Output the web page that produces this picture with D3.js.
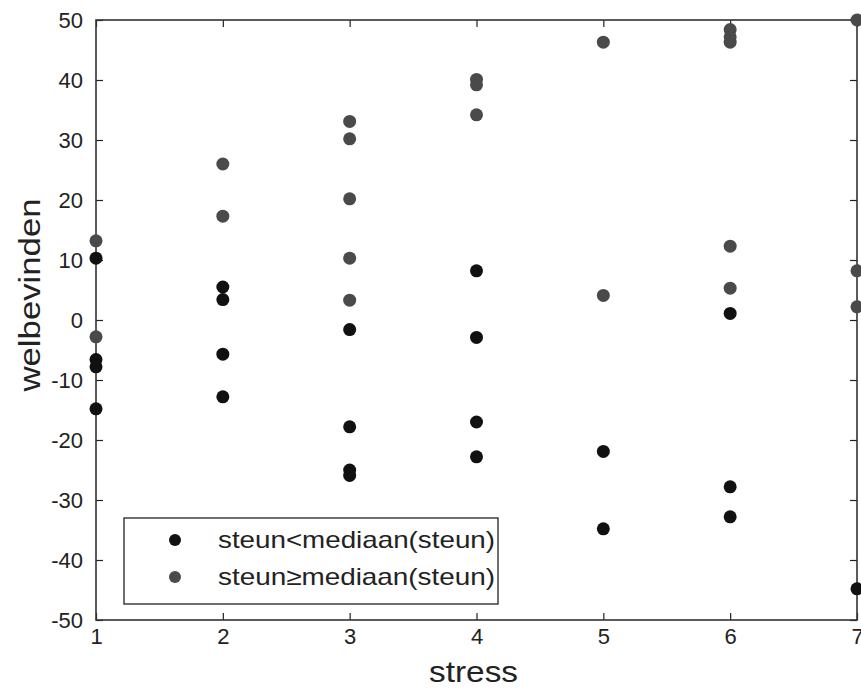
<!DOCTYPE html>
<html>
<head>
<meta charset="utf-8">
<script src="https://cdn.jsdelivr.net/npm/d3@7"></script>
<style>
  body { margin: 0; background: #fff; }
  text { font-family: "Liberation Sans", Arial, sans-serif; fill: #222; }
</style>
</head>
<body>
<script>
// stress level per point and wellbeing score, split by social support
const lowStress = [1, 1, 1, 1, 2, 2, 2, 2, 3, 3, 3, 3, 4, 4, 4, 4, 5, 5, 6, 6, 6, 7];
const lowWelbevinden = [10.3, -6.6, -7.8, -14.8, 5.5, 3.4, -5.7, -12.8, -1.6, -17.8, -25, -25.9, 8.2, -2.9, -17, -22.8, -21.9, -34.8, 1.1, -27.8, -32.8, -44.8];

const highStress = [1, 1, 2, 2, 3, 3, 3, 3, 3, 4, 4, 4, 5, 5, 6, 6, 6, 6, 6, 7, 7, 7];
const highWelbevinden = [13.2, -2.8, 26, 17.3, 33.1, 30.2, 20.2, 10.3, 3.3, 40.1, 39.2, 34.2, 46.3, 4.1, 48.4, 47.2, 46.3, 12.3, 5.3, 50, 8.2, 2.2];

const xTicks = [1, 2, 3, 4, 5, 6, 7];
const yTicks = [-50, -40, -30, -20, -10, 0, 10, 20, 30, 40, 50];
const legendLabels = ["steun<mediaan(steun)", "steun\u2265mediaan(steun)"];

const margin = {top: 20, left: 96, right: 4, bottom: 71};
const width = 861 - margin.left - margin.right;
const height = 691 - margin.top - margin.bottom;

const svg = d3.select("body").append("svg")
  .attr("width", 861)
  .attr("height", 691)
  .append("g")
  .attr("transform", `translate(${margin.left}, ${margin.top})`);

const x = d3.scaleLinear().domain([1, 7]).range([0, width]);
const y = d3.scaleLinear().domain([-50, 50]).range([height, 0]);

const plain = d => String(d); // keep ascii hyphen for negatives

// axes with inward ticks, mirrored on top and right
function styleAxis(g) {
  g.attr("font-size", 22);
  g.select(".domain").remove();
  g.selectAll(".tick line").attr("stroke", "#222").attr("stroke-width", 1.2);
  g.selectAll(".tick text").attr("fill", "#222");
}

svg.append("g")
  .attr("transform", `translate(0, ${height})`)
  .call(d3.axisBottom(x).tickValues(xTicks).tickFormat(plain).tickSizeInner(-7).tickPadding(8))
  .call(styleAxis);

svg.append("g")
  .call(d3.axisLeft(y).tickValues(yTicks).tickFormat(plain).tickSizeInner(-7).tickPadding(13))
  .call(styleAxis);

svg.append("g")
  .call(d3.axisTop(x).tickValues(xTicks).tickSizeInner(-7).tickFormat(""))
  .call(styleAxis);

svg.append("g")
  .attr("transform", `translate(${width}, 0)`)
  .call(d3.axisRight(y).tickValues(yTicks).tickSizeInner(-7).tickFormat(""))
  .call(styleAxis);

svg.append("rect")
  .attr("width", width)
  .attr("height", height)
  .attr("fill", "none")
  .attr("stroke", "#333")
  .attr("stroke-width", 1.6);

const darkColor = "#111";
const greyColor = "#4a4a4a";

svg.append("g").selectAll("circle")
  .data(lowStress.map((s, i) => ({s, w: lowWelbevinden[i]})))
  .enter().append("circle")
  .attr("cx", d => x(d.s))
  .attr("cy", d => y(d.w))
  .attr("r", 6.5)
  .attr("fill", darkColor);

svg.append("g").selectAll("circle")
  .data(highStress.map((s, i) => ({s, w: highWelbevinden[i]})))
  .enter().append("circle")
  .attr("cx", d => x(d.s))
  .attr("cy", d => y(d.w))
  .attr("r", 6.5)
  .attr("fill", greyColor);

// axis titles
svg.append("text")
  .attr("x", width / 2 - 3)
  .attr("y", height + 62)
  .style("text-anchor", "middle")
  .style("font-size", "29px")
  .attr("textLength", 89)
  .attr("lengthAdjust", "spacingAndGlyphs")
  .text("stress");

svg.append("text")
  .attr("transform", "rotate(-90)")
  .attr("x", -(295 - margin.top))
  .attr("y", -56)
  .style("text-anchor", "middle")
  .style("font-size", "29px")
  .attr("textLength", 193)
  .attr("lengthAdjust", "spacingAndGlyphs")
  .text("welbevinden");

// legend
const legend = svg.append("g")
  .attr("transform", `translate(${124 - margin.left}, ${518 - margin.top})`);

legend.append("rect")
  .attr("width", 374)
  .attr("height", 86)
  .attr("fill", "#fff")
  .attr("stroke", "#222")
  .attr("stroke-width", 1.3);

legend.selectAll("circle")
  .data(legendLabels)
  .enter().append("circle")
  .attr("cx", 51)
  .attr("cy", (d, i) => 22 + i * 37)
  .attr("r", 6)
  .attr("fill", (d, i) => i === 0 ? darkColor : greyColor);

legend.selectAll("text")
  .data(legendLabels)
  .enter().append("text")
  .attr("x", 94)
  .attr("y", (d, i) => 30 + i * 37)
  .style("font-size", "24px")
  .attr("textLength", 277)
  .attr("lengthAdjust", "spacingAndGlyphs")
  .text(d => d);
</script>
</body>
</html>
